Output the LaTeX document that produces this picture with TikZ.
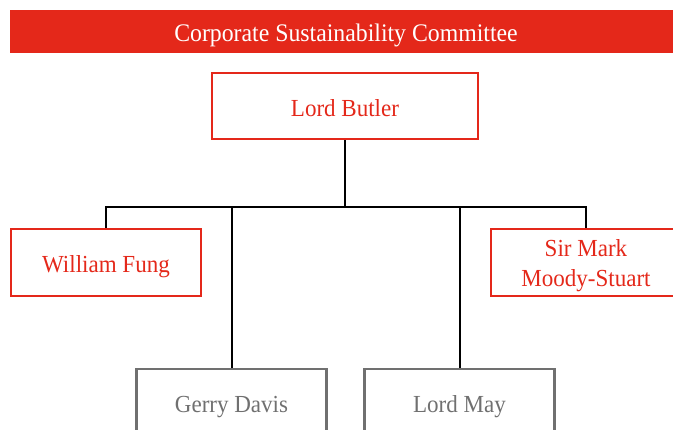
\documentclass[tikz,border=0pt]{standalone}
\usepackage{fontspec}
\setmainfont{Liberation Serif}[FakeStretch=0.94]
\definecolor{cred}{HTML}{E4281A}
\definecolor{cgray}{HTML}{707070}
\begin{document}
\begin{tikzpicture}[x=1pt,y=-1pt,
  base/.style={line width=2.4pt,minimum width=190pt,minimum height=66.5pt,inner sep=0pt,align=center,text height=20.5pt,text depth=0pt,font=\fontsize{24.5}{30}\selectfont},
  redbox/.style={base,draw=cred,text=cred},
  graybox/.style={base,draw=cgray,text=cgray},
  conn/.style={draw=black,line width=2pt}]
\useasboundingbox (0,0) rectangle (673,430);
\node[fill=cred,minimum width=672pt,minimum height=43pt,inner sep=0pt,text=white,text height=20.4pt,text depth=0pt,font=\fontsize{25.3}{28}\selectfont] (banner) at (346,31.5) {Corporate Sustainability Committee};
\node[redbox,minimum width=266.5pt] (butler) at (345,106) {Lord Butler};
\node[redbox] (fung) at (106,262.5) {William Fung};
\node[redbox,text height=49pt] (mark) at (586,262.5) {Sir Mark\\Moody-Stuart};
\node[graybox] (davis) at (231.5,402.5) {Gerry Davis};
\node[graybox] (may) at (459.5,402.5) {Lord May};
\coordinate (hub) at (345,207);
\draw[conn] (butler.south) -- (hub);
\draw[conn] (fung.north) |- (hub);
\draw[conn] (mark.north) |- (hub);
\draw[conn] (davis.north) -- (davis.north |- hub);
\draw[conn] (may.north) -- (may.north |- hub);
\end{tikzpicture}
\end{document}
